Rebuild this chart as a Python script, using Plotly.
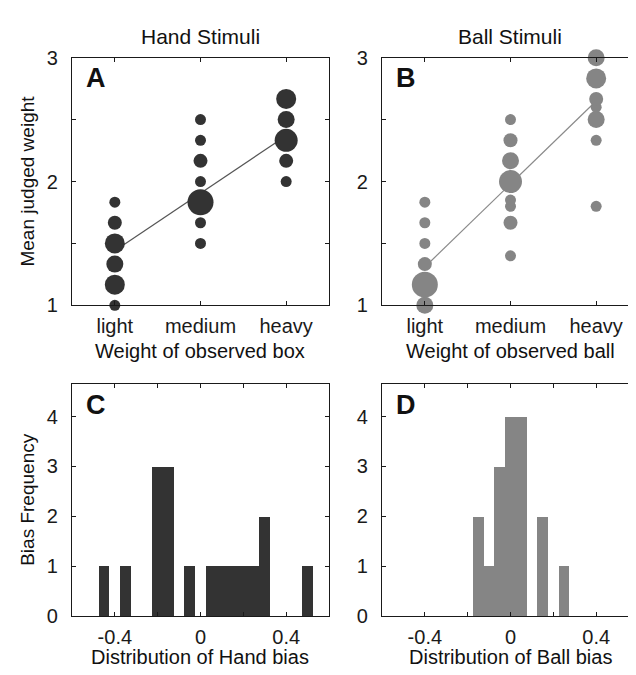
import plotly.graph_objects as go

# ---------------- data ----------------
weight_levels = [1, 2, 3]
weight_labels = ["light", "medium", "heavy"]

# Panel A (hand stimuli): judged weight values and number of subjects at each value
hand_light_vals = [1.0, 1.167, 1.333, 1.5, 1.667, 1.833]
hand_light_cnt = [1, 4, 3, 4, 2, 1]
hand_medium_vals = [1.5, 1.667, 1.833, 2.0, 2.167, 2.333, 2.5]
hand_medium_cnt = [1, 1, 6, 1, 2, 1, 1]
hand_heavy_vals = [2.0, 2.167, 2.333, 2.5, 2.667]
hand_heavy_cnt = [1, 2, 5, 3, 4]
hand_fit = [1.44, 1.905, 2.37]

# Panel B (ball stimuli)
ball_light_vals = [1.0, 1.167, 1.333, 1.5, 1.667, 1.833]
ball_light_cnt = [3, 6, 2, 1, 1, 1]
ball_medium_vals = [1.40, 1.667, 1.80, 1.85, 2.0, 2.167, 2.333, 2.5]
ball_medium_cnt = [1, 2, 1, 1, 5, 3, 2, 1]
ball_heavy_vals = [1.80, 2.333, 2.5, 2.6, 2.667, 2.833, 3.0]
ball_heavy_cnt = [1, 1, 3, 1, 2, 4, 3]
ball_fit = [1.31, 1.98, 2.65]

# Panel C / D histograms of bias (bin centres, width 0.05)
hand_bias_bins = [-0.45, -0.35, -0.2, -0.15, -0.05, 0.05, 0.1, 0.15, 0.2, 0.25, 0.3, 0.5]
hand_bias_freq = [1, 1, 3, 3, 1, 1, 1, 1, 1, 1, 2, 1]
ball_bias_bins = [-0.15, -0.1, -0.05, 0.0, 0.05, 0.15, 0.25]
ball_bias_freq = [2, 1, 3, 4, 4, 2, 1]

bin_width = 0.05
bias_ticks = [-0.4, -0.2, 0, 0.2, 0.4]
bias_ticklabels = ["-0.4", "", "0", "", "0.4"]

# ---------------- style ----------------
DARK = "#333333"
GREY = "#858585"
FONT = "Liberation Sans, Arial, Helvetica, sans-serif"
W, H = 636, 675
TICK_FS = 20


def size_of(counts):
    return [8 + 3 * c for c in counts]


fig = go.Figure()


def add_points(vals_list, cnt_list, color, xa, ya):
    for lvl, vals, cnts in zip(weight_levels, vals_list, cnt_list):
        fig.add_trace(go.Scatter(
            x=[lvl] * len(vals), y=vals, mode="markers",
            marker=dict(color=color, size=size_of(cnts), opacity=1, line=dict(width=0)),
            cliponaxis=False, xaxis=xa, yaxis=ya, showlegend=False, hoverinfo="skip"))


# fits
fig.add_trace(go.Scatter(x=weight_levels, y=hand_fit, mode="lines",
                         line=dict(color="#555555", width=1.2),
                         xaxis="x", yaxis="y", showlegend=False))
fig.add_trace(go.Scatter(x=weight_levels, y=ball_fit, mode="lines",
                         line=dict(color="#8a8a8a", width=1.2),
                         xaxis="x2", yaxis="y2", showlegend=False))

add_points([hand_light_vals, hand_medium_vals, hand_heavy_vals],
           [hand_light_cnt, hand_medium_cnt, hand_heavy_cnt], DARK, "x", "y")
add_points([ball_light_vals, ball_medium_vals, ball_heavy_vals],
           [ball_light_cnt, ball_medium_cnt, ball_heavy_cnt], GREY, "x2", "y2")

fig.add_trace(go.Bar(x=hand_bias_bins, y=hand_bias_freq, width=bin_width,
                     marker=dict(color=DARK, line=dict(width=0)),
                     xaxis="x3", yaxis="y3", showlegend=False))
fig.add_trace(go.Bar(x=ball_bias_bins, y=ball_bias_freq, width=bin_width,
                     marker=dict(color=GREY, line=dict(width=0)),
                     xaxis="x4", yaxis="y4", showlegend=False))


def px_x(a, b):
    return [a / W, b / W]


def px_y(top, bottom):
    return [1 - bottom / H, 1 - top / H]


axis_common = dict(showline=True, mirror="ticks", linecolor="#1a1a1a", linewidth=1.3,
                   ticks="inside", ticklen=4, tickwidth=1.3, tickcolor="#1a1a1a",
                   showgrid=False, zeroline=False,
                   tickfont=dict(family=FONT, size=TICK_FS, color="#1a1a1a"))

xA = px_x(64, 321)
xB = px_x(374, 631)
yTop = px_y(40, 296)
yBot = px_y(377, 617)

fig.update_layout(
    width=W, height=H, margin=dict(l=0, r=0, t=0, b=0),
    paper_bgcolor="white", plot_bgcolor="white", bargap=0,
    font=dict(family=FONT, size=TICK_FS, color="#1a1a1a"),
    xaxis=dict(axis_common, domain=xA, anchor="y", range=[0.5, 3.5],
               tickvals=weight_levels, ticktext=weight_labels, ticklabelstandoff=2),
    yaxis=dict(axis_common, domain=yTop, anchor="x", range=[1, 3],
               tickvals=[1, 1.5, 2, 2.5, 3], ticktext=["1", "", "2", "", "3"], ticklabelstandoff=9),
    xaxis2=dict(axis_common, domain=xB, anchor="y2", range=[0.5, 3.5],
                tickvals=weight_levels, ticktext=weight_labels, ticklabelstandoff=2),
    yaxis2=dict(axis_common, domain=yTop, anchor="x2", range=[1, 3],
                tickvals=[1, 1.5, 2, 2.5, 3], ticktext=["1", "", "2", "", "3"], ticklabelstandoff=9),
    xaxis3=dict(axis_common, domain=xA, anchor="y3", range=[-0.6, 0.6],
                tickvals=bias_ticks, ticktext=bias_ticklabels, ticklabelstandoff=3),
    yaxis3=dict(axis_common, domain=yBot, anchor="x3", range=[0, 4.66],
                tickvals=[0, 1, 2, 3, 4], ticklabelstandoff=9),
    xaxis4=dict(axis_common, domain=xB, anchor="y4", range=[-0.6, 0.6],
                tickvals=bias_ticks, ticktext=bias_ticklabels, ticklabelstandoff=3),
    yaxis4=dict(axis_common, domain=yBot, anchor="x4", range=[0, 4.66],
                tickvals=[0, 1, 2, 3, 4], ticklabelstandoff=9),
)


def ann(text, x, y, size=20, bold=False, angle=0):
    fig.add_annotation(text=f"<b>{text}</b>" if bold else text,
                       x=x / W, y=1 - y / H, xref="paper", yref="paper",
                       showarrow=False, textangle=angle,
                       font=dict(family=FONT, size=size, color="#111111"),
                       xanchor="center", yanchor="middle")


ann("Hand Stimuli", 192, 18, size=21)
ann("Ball Stimuli", 502, 18, size=21)
ann("Mean judged weight", 20, 168, size=19, angle=-90)
ann("Bias Frequency", 20, 497, size=19, angle=-90)
ann("Weight of observed box", 192, 343)
ann("Weight of observed ball", 502, 343)
ann("Distribution of Hand bias", 192, 660)
ann("Distribution of Ball bias", 502, 660)
ann("A", 88, 61, size=27, bold=True)
ann("B", 398, 61, size=27, bold=True)
ann("C", 88, 399, size=27, bold=True)
ann("D", 398, 399, size=27, bold=True)

fig.write_html("out.html")
